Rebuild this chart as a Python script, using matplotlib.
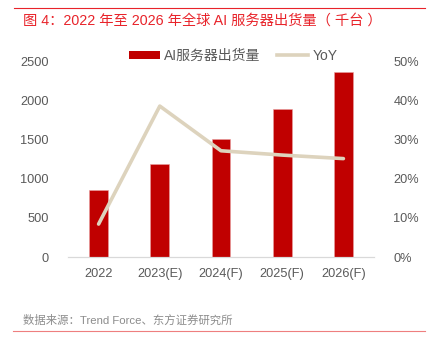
import matplotlib
matplotlib.use("Agg")
import matplotlib.pyplot as plt
from matplotlib.lines import Line2D
from matplotlib.patches import Patch
import numpy as np

plt.rcParams["font.family"] = ["Liberation Sans", "Noto Sans CJK SC", "DejaVu Sans"]

years = ["2022", "2023(E)", "2024(F)", "2025(F)", "2026(F)"]
shipments = [850, 1180, 1500, 1890, 2365]  # 千台
yoy = [8.4, 38.5, 27.1, 26.0, 25.1]  # %

title = "图 4：2022 年至 2026 年全球 AI 服务器出货量（ 千台 ）"
source = "数据来源：Trend Force、东方证券研究所"

red = "#C00000"
beige = "#DDD3BD"
grey = "#595959"

fig = plt.figure(figsize=(4.39, 3.5), dpi=100)
ax = fig.add_axes([68 / 439, 1 - 257 / 350, 306 / 439, 196 / 350])
ax2 = ax.twinx()

x = np.arange(len(years))
ax.bar(x, shipments, width=0.31, color=red, edgecolor="#E8A0A0", linewidth=0.4, zorder=2)
ax2.plot(x, yoy, color=beige, linewidth=2.6, solid_capstyle="round", zorder=3)

ax.set_xlim(-0.5, len(years) - 0.5)
ax.set_ylim(0, 2500)
ax.set_yticks(np.arange(0, 2501, 500))
ax2.set_ylim(0, 50)
ax2.set_yticks(np.arange(0, 51, 10))
ax2.set_yticklabels([f"{v}%" for v in range(0, 51, 10)])
ax.set_xticks(x)
ax.set_xticklabels(years)

for a in (ax, ax2):
    for s in ["top", "left", "right"]:
        a.spines[s].set_visible(False)
    a.spines["bottom"].set_color("#D9D9D9")
    a.tick_params(length=0, labelsize=9.2, labelcolor=grey)
ax.tick_params(axis="y", pad=14)
ax2.tick_params(axis="y", pad=14)
ax.tick_params(axis="x", pad=8)

handles = [
    Patch(facecolor=red, edgecolor="none"),
    Line2D([0], [0], color=beige, linewidth=2.6),
]
fig.legend(
    handles,
    ["AI服务器出货量", "YoY"],
    loc="center",
    bbox_to_anchor=(233 / 439, 1 - 56 / 350),
    ncol=2,
    frameon=False,
    fontsize=10,
    labelcolor=grey,
    handlelength=2.25,
    handleheight=0.55,
    columnspacing=1.2,
    handletextpad=0.3,
)

# header / footer
fig.add_artist(Line2D([14 / 439, 425 / 439], [1 - 8 / 350] * 2, color="#E8232A", linewidth=0.8))
fig.text(23 / 439, 1 - 21 / 350, title, color="#E8232A", fontsize=10.3, va="center", ha="left")
fig.text(23 / 439, 1 - 320 / 350, source, color="#8C8C8C", fontsize=8.2, va="center", ha="left")
fig.add_artist(Line2D([13 / 439, 425 / 439], [1 - 331 / 350] * 2, color="#EE7F7F", linewidth=0.8))

fig.savefig("out.png", dpi=100)
